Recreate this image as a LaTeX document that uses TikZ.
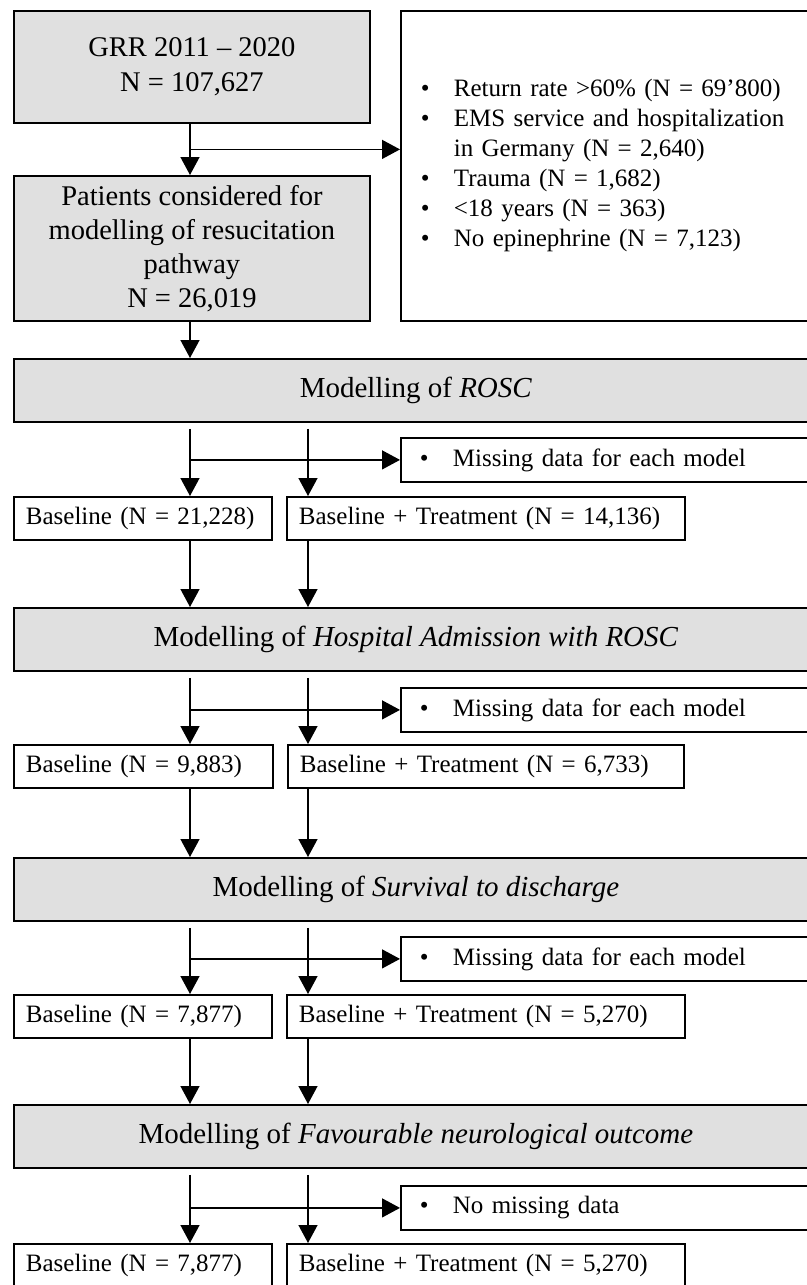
\documentclass[tikz,border=0pt]{standalone}
\usepackage{fontspec}
\setmainfont{Liberation Serif}
\usetikzlibrary{arrows.meta, positioning, calc}
\usepackage{xcolor}
\definecolor{boxgray}{RGB}{224,224,224}

\begin{document}
\begin{tikzpicture}[x=1pt, y=-1pt,
  every node/.style={draw, line width=1.8pt, inner sep=0pt,
    font=\fontsize{25}{30}\selectfont},
  greybox/.style={fill=boxgray, align=center, anchor=north west,
    font=\fontsize{28.5}{34}\selectfont},
  modelbox/.style={greybox, minimum width=804, minimum height=63,
    font=\fontsize{29}{34}\selectfont},
  notebox/.style={fill=white, text width=382, inner xsep=19, align=left,
    minimum height=44, anchor=north west},
  countbox/.style={fill=white, minimum height=43, inner xsep=12,
    align=left, anchor=north west},
  arr/.style={draw, line width=1.4pt, -{Triangle[length=18pt, width=19pt]}}
]
\useasboundingbox (0,0) rectangle (806,1285);

% selection of patients
\node[greybox, minimum width=356, minimum height=112] (grr) at (13,10)
  {GRR 2011 – 2020\\[1pt]N = 107,627};
\node[greybox, minimum width=356, minimum height=145] (pat) at (13,175)
  {Patients considered for\\modelling of resucitation\\pathway\\N = 26,019};
\node[fill=white, text width=380, inner xsep=20, minimum height=310,
  align=left, anchor=north west] (excl) at (400,10)
  {\makebox[33pt][l]{•}Return rate >60\% (N = 69’800)\\
   \makebox[33pt][l]{•}EMS service and hospitalization\\
   \hspace*{33pt}in Germany (N = 2,640)\\
   \makebox[33pt][l]{•}Trauma (N = 1,682)\\
   \makebox[33pt][l]{•}<18 years (N = 363)\\
   \makebox[33pt][l]{•}No epinephrine (N = 7,123)};

% outcome models
\node[modelbox] (rosc) at (13,358) {Modelling of \textit{ROSC}};
\node[notebox] (miss1) at (400,437) {\makebox[33pt][l]{•}Missing data for each model};
\node[countbox, text width=234] (bl1) at (13,496) {Baseline (N = 21,228)};
\node[countbox, text width=374] (bt1) at (286,496) {Baseline + Treatment (N = 14,136)};

\node[modelbox] (hosp) at (13,607) {Modelling of \textit{Hospital Admission with ROSC}};
\node[notebox] (miss2) at (400,687) {\makebox[33pt][l]{•}Missing data for each model};
\node[countbox, text width=235] (bl2) at (13,744) {Baseline (N = 9,883)};
\node[countbox, text width=372] (bt2) at (287,744) {Baseline + Treatment (N = 6,733)};

\node[modelbox] (surv) at (13,857) {Modelling of \textit{Survival to discharge}};
\node[notebox] (miss3) at (400,936) {\makebox[33pt][l]{•}Missing data for each model};
\node[countbox, text width=234] (bl3) at (13,994) {Baseline (N = 7,877)};
\node[countbox, text width=374] (bt3) at (286,994) {Baseline + Treatment (N = 5,270)};

\node[modelbox] (fav) at (13,1104) {Modelling of \textit{Favourable neurological outcome}};
\node[notebox] (miss4) at (400,1185) {\makebox[33pt][l]{•}No missing data};
\node[countbox, text width=234] (bl4) at (13,1243) {Baseline (N = 7,877)};
\node[countbox, text width=374] (bt4) at (286,1243) {Baseline + Treatment (N = 5,270)};

% arrow columns
\coordinate (c1) at (190,0);
\coordinate (c2) at (308,0);
\coordinate (split0) at ($(grr.south)!0.5!(pat.north)$);

\draw[arr] (grr.south -| c1) -- (pat.north -| c1);
\draw[arr] (split0 -| c1) -- (split0 -| excl.west);
\draw[arr] (pat.south -| c1) -- (rosc.north -| c1);

\draw[arr] (rosc.south -| c1) ++(0,6) -- (bl1.north -| c1);
\draw[arr] (rosc.south -| c2) ++(0,6) -- (bt1.north -| c2);
\draw[arr] (miss1.west -| c1) -- (miss1.west);
\draw[arr] (bl1.south -| c1) -- (hosp.north -| c1);
\draw[arr] (bt1.south -| c2) -- (hosp.north -| c2);

\draw[arr] (hosp.south -| c1) ++(0,6) -- (bl2.north -| c1);
\draw[arr] (hosp.south -| c2) ++(0,6) -- (bt2.north -| c2);
\draw[arr] (miss2.west -| c1) -- (miss2.west);
\draw[arr] (bl2.south -| c1) -- (surv.north -| c1);
\draw[arr] (bt2.south -| c2) -- (surv.north -| c2);

\draw[arr] (surv.south -| c1) ++(0,6) -- (bl3.north -| c1);
\draw[arr] (surv.south -| c2) ++(0,6) -- (bt3.north -| c2);
\draw[arr] (miss3.west -| c1) -- (miss3.west);
\draw[arr] (bl3.south -| c1) -- (fav.north -| c1);
\draw[arr] (bt3.south -| c2) -- (fav.north -| c2);

\draw[arr] (fav.south -| c1) ++(0,6) -- (bl4.north -| c1);
\draw[arr] (fav.south -| c2) ++(0,6) -- (bt4.north -| c2);
\draw[arr] (miss4.west -| c1) -- (miss4.west);

\end{tikzpicture}
\end{document}
